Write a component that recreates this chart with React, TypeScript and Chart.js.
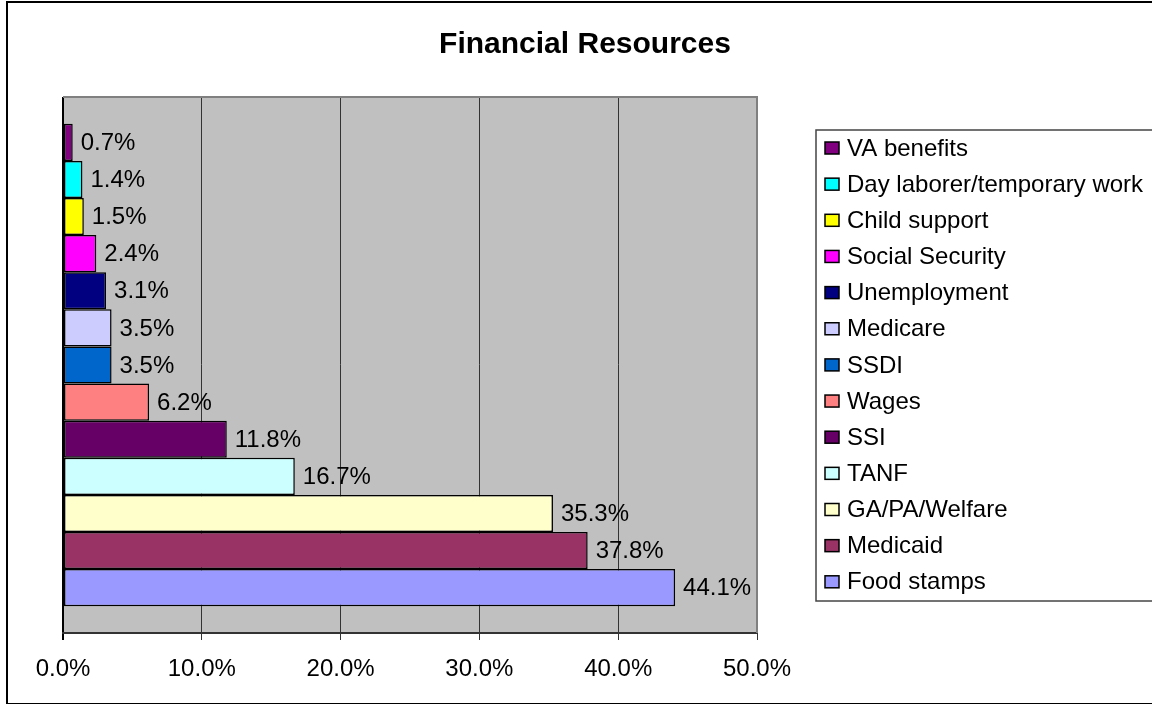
import React, { useEffect, useRef } from "react";
import { Chart, registerables } from "chart.js";

Chart.register(...registerables);

const chartTitle = "Financial Resources";
const categories = [
  "VA benefits",
  "Day laborer/temporary work",
  "Child support",
  "Social Security",
  "Unemployment",
  "Medicare",
  "SSDI",
  "Wages",
  "SSI",
  "TANF",
  "GA/PA/Welfare",
  "Medicaid",
  "Food stamps",
];
const values = [0.7, 1.4, 1.5, 2.4, 3.1, 3.5, 3.5, 6.2, 11.8, 16.7, 35.3, 37.8, 44.1];
const colors = [
  "#800080",
  "#00FFFF",
  "#FFFF00",
  "#FF00FF",
  "#000080",
  "#CCCCFF",
  "#0066CC",
  "#FF8080",
  "#660066",
  "#CCFFFF",
  "#FFFFCC",
  "#993366",
  "#9999FF",
];
const xTicks = [0, 10, 20, 30, 40, 50];

const FONT = '"Liberation Sans", Arial, sans-serif';

const decor = {
  id: "decor",
  beforeDraw(chart: any) {
    const { ctx, chartArea: a } = chart;
    ctx.save();
    ctx.fillStyle = "#ffffff";
    ctx.fillRect(0, 0, chart.width, chart.height);
    ctx.fillStyle = "#C0C0C0";
    ctx.fillRect(a.left, a.top, a.right - a.left, a.bottom - a.top);
    ctx.restore();
  },
  beforeDatasetsDraw(chart: any) {
    const { ctx, chartArea: a } = chart;
    ctx.save();
    ctx.strokeStyle = "#808080";
    ctx.lineWidth = 2;
    ctx.beginPath();
    ctx.moveTo(a.left, a.top);
    ctx.lineTo(a.right, a.top);
    ctx.lineTo(a.right, a.bottom);
    ctx.stroke();
    ctx.restore();
  },
  afterDatasetsDraw(chart: any) {
    const { ctx } = chart;
    ctx.save();
    ctx.font = `24px ${FONT}`;
    ctx.fillStyle = "#000";
    ctx.textAlign = "left";
    ctx.textBaseline = "middle";
    chart.data.datasets.forEach((ds: any, i: number) => {
      const meta = chart.getDatasetMeta(i);
      meta.data.forEach((el: any, j: number) => {
        const v = ds.data[j] as number;
        ctx.fillText(v.toFixed(1) + "%", el.x + 8, el.y + 1);
      });
    });
    ctx.restore();
  },
  afterDraw(chart: any) {
    const { ctx } = chart;
    ctx.save();
    // outer frame
    ctx.strokeStyle = "#000";
    ctx.lineWidth = 2;
    ctx.strokeRect(7, 2, 1160, 702);
    // title
    ctx.font = `bold 30px ${FONT}`;
    ctx.fillStyle = "#000";
    ctx.textAlign = "center";
    ctx.textBaseline = "middle";
    ctx.fillText(chartTitle, 585, 45);
    // legend box
    ctx.strokeStyle = "#444";
    ctx.lineWidth = 1.5;
    ctx.strokeRect(816, 130, 360, 471);
    ctx.font = `24px ${FONT}`;
    ctx.textAlign = "left";
    chart.data.datasets.forEach((ds: any, i: number) => {
      const y = 148 + i * 36.15;
      ctx.fillStyle = ds.backgroundColor;
      ctx.fillRect(825, y - 6, 14, 12);
      ctx.strokeStyle = "#000";
      ctx.lineWidth = 1.5;
      ctx.strokeRect(825, y - 6, 14, 12);
      ctx.fillStyle = "#000";
      ctx.fillText(ds.label, 847, y + 1);
    });
    ctx.restore();
  },
};

export default function App() {
  const ref = useRef<HTMLCanvasElement | null>(null);
  useEffect(() => {
    if (!ref.current) return;
    const chart = new Chart(ref.current, {
      type: "bar",
      data: {
        labels: [""],
        datasets: categories.map((c, i) => ({
          label: c,
          data: [values[i]],
          backgroundColor: colors[i],
          borderColor: "#000",
          borderWidth: 1.5,
          borderSkipped: false,
          categoryPercentage: 0.9,
          barPercentage: 1,
        })),
      },
      options: {
        animation: false,
        responsive: false,
        indexAxis: "y",
        layout: { padding: { left: 63, right: 395, top: 97, bottom: 0 } },
        plugins: {
          legend: { display: false },
          title: { display: false },
          tooltip: { enabled: false },
        },
        scales: {
          x: {
            type: "linear",
            min: 0,
            max: 50,
            afterBuildTicks: (s: any) => {
              s.ticks = xTicks.map((v) => ({ value: v }));
            },
            afterFit: (s: any) => {
              s.height = 71;
            },
            ticks: {
              callback: (v: any) => Number(v).toFixed(1) + "%",
              font: { family: FONT, size: 24 },
              color: "#000",
              padding: 15,
              maxRotation: 0,
            },
            grid: {
              color: (c: any) => (c.tick && c.tick.value === 0 ? "#000" : "#333"),
              lineWidth: (c: any) => (c.tick && c.tick.value === 0 ? 2 : 1),
              tickLength: 7,
              drawTicks: true,
            },
            border: { display: true, color: "#333", width: 2 },
          },
          y: { type: "category", display: false },
        },
      },
      plugins: [decor],
    } as any);
    return () => chart.destroy();
  }, []);
  return (
    <div style={{ position: "fixed", left: 0, top: 0, width: 1152, height: 704 }}>
      <canvas ref={ref} width={1152} height={704} style={{ display: "block" }} />
    </div>
  );
}
